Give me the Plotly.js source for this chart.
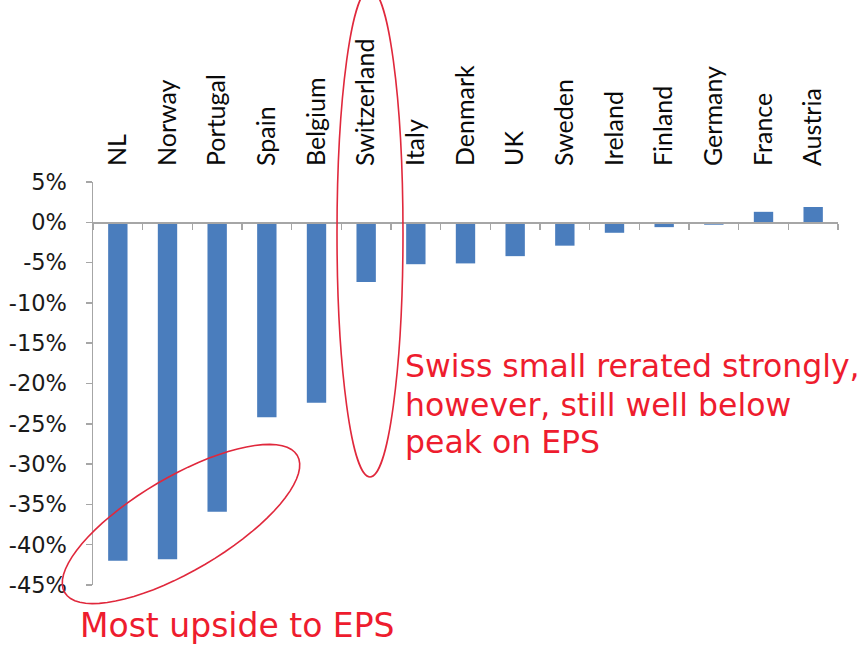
<!DOCTYPE html>
<html>
<head>
<meta charset="utf-8">
<script src="https://cdn.plot.ly/plotly-3.0.1.min.js"></script>
<style>html,body{margin:0;padding:0;background:#fff;}#chart{width:865px;height:646px;}</style>
</head>
<body>
<div id="chart"></div>
<script>
// Data
const categories = ['NL','Norway','Portugal','Spain','Belgium','Switzerland','Italy','Denmark','UK','Sweden','Ireland','Finland','Germany','France','Austria'];
const values = [-42.0,-41.8,-35.9,-24.2,-22.4,-7.4,-5.2,-5.1,-4.2,-2.9,-1.3,-0.6,-0.3,1.3,1.9];
const yTickVals = [5,0,-5,-10,-15,-20,-25,-30,-35,-40,-45];
const yTickText = ['5%','0%','-5%','-10%','-15%','-20%','-25%','-30%','-35%','-40%','-45%'];
const swissNote = ['Swiss small rerated strongly,','however, still well below','peak on EPS'];
const upsideNote = 'Most upside to EPS';

// Layout geometry (pixels)
const W = 865, H = 646;
const L = 93, R = 838, T = 182, B = 585;
const px2x = p => (p - L) / (R - L);
const py2y = p => (B - p) / (B - T);

const barColor = '#4a7dbd';
const axisColor = '#a6a6a6';
const red = '#ee1c2e';
const ellipseColor = '#e0283c';

// tilted ellipse path around the lower-left bars
function ellipsePath(cx, cy, a, b, angDeg) {
  const th = angDeg * Math.PI / 180;
  let d = '';
  for (let i = 0; i <= 72; i++) {
    const t = i / 72 * 2 * Math.PI;
    const ex = a * Math.cos(t), ey = b * Math.sin(t);
    const X = cx + ex * Math.cos(th) - ey * Math.sin(th);
    const Y = cy + ex * Math.sin(th) + ey * Math.cos(th);
    d += (i === 0 ? 'M' : 'L') + px2x(X).toFixed(5) + ',' + py2y(Y).toFixed(5);
  }
  return d + 'Z';
}

const traces = [
  {type:'bar', x:categories, y:values, xaxis:'x', yaxis:'y',
   marker:{color:barColor}, hoverinfo:'skip', showlegend:false},
  {type:'bar', x:categories, y:values, xaxis:'x2', yaxis:'y',
   marker:{color:'rgba(0,0,0,0)'}, hoverinfo:'skip', showlegend:false}
];

const layout = {
  width: W, height: H,
  margin: {l: L, r: W - R, t: T, b: H - B, pad: 0},
  paper_bgcolor: '#fff', plot_bgcolor: '#fff',
  bargap: 0.61,
  barmode: 'overlay',
  xaxis: {
    type:'category', side:'top', anchor:'y', range:[-0.5, 14.5],
    showline:false, showgrid:false, zeroline:false, ticks:'', tickangle:-90,
    ticklabelstandoff: 15,
    tickfont:{family:'Lato, Carlito, Calibri, sans-serif', size:25, color:'#0a0a0a'},
    automargin:false
  },
  xaxis2: {
    type:'category', overlaying:'x', anchor:'free', position:0.9, side:'bottom',
    range:[-0.5, 14.5], showline:true, linecolor:axisColor, linewidth:1.5,
    ticks:'outside', tickson:'boundaries', ticklen:6, tickcolor:axisColor, tickwidth:1.5,
    showticklabels:false, showgrid:false, zeroline:false, automargin:false
  },
  yaxis: {
    range:[-45, 5], tickvals:yTickVals, ticktext:yTickText,
    showline:true, linecolor:axisColor, linewidth:1.5,
    ticks:'outside', ticklen:6, tickcolor:axisColor, tickwidth:1.5,
    showgrid:false, zeroline:false,
    ticklabelstandoff: 14,
    tickfont:{family:'DejaVu Sans, Verdana, sans-serif', size:22.5, color:'#1a1a1a'},
    automargin:false
  },
  shapes: [
    {type:'circle', xref:'paper', yref:'paper',
     x0:px2x(337), x1:px2x(403), y0:py2y(477), y1:py2y(-11),
     line:{color:ellipseColor, width:1.6}, fillcolor:'rgba(0,0,0,0)'},
    {type:'path', xref:'paper', yref:'paper',
     path: ellipsePath(181, 524, 135, 47, -30.5),
     line:{color:ellipseColor, width:1.6}, fillcolor:'rgba(0,0,0,0)'}
  ],
  annotations: [
    ...swissNote.map((t, i) => ({
      xref:'paper', yref:'paper', x:px2x(403), y:py2y([366, 405, 442][i]),
      xanchor:'left', yanchor:'middle', showarrow:false, text:t,
      font:{family:'DejaVu Sans, Arial, sans-serif', size:31.5, color:red}
    })),
    {xref:'paper', yref:'paper', x:px2x(78), y:py2y(625),
     xanchor:'left', yanchor:'middle', showarrow:false, text:upsideNote,
     font:{family:'DejaVu Sans, Arial, sans-serif', size:33, color:red}}
  ]
};

Plotly.newPlot('chart', traces, layout, {staticPlot:true, displayModeBar:false});
</script>
</body>
</html>
